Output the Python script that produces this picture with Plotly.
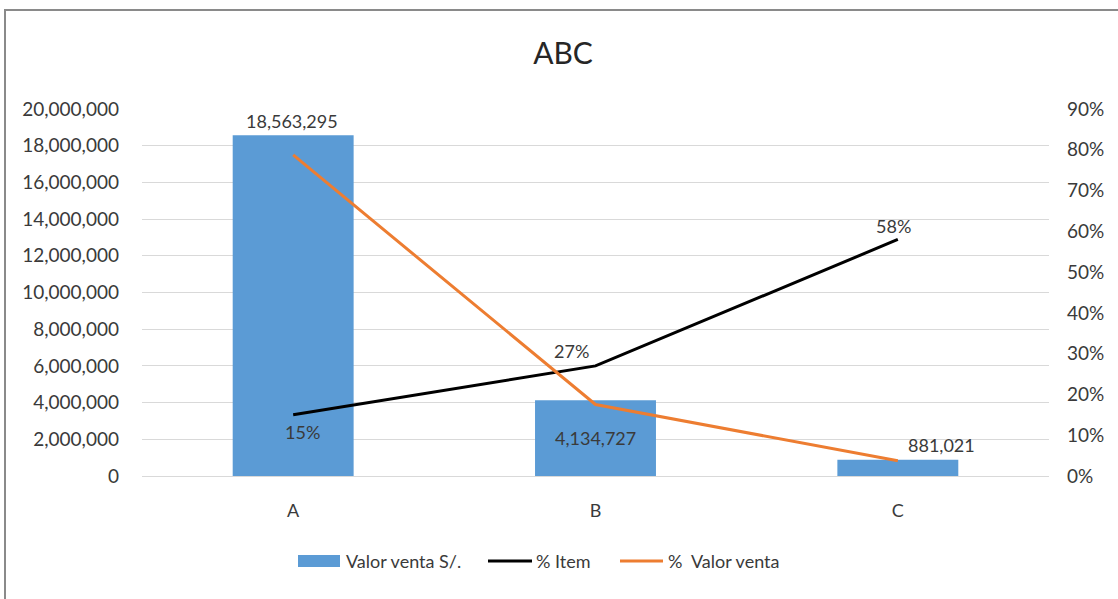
import plotly.graph_objects as go

# ABC classification data
categories = ["A", "B", "C"]
valor_venta = [18563295, 4134727, 881021]          # S/.
pct_item = [0.15, 0.27, 0.58]
total_venta = sum(valor_venta)
pct_valor_venta = [v / total_venta for v in valor_venta]

left_ticks = list(range(0, 20000001, 2000000))
right_ticks = [i / 10 for i in range(0, 10)]

FONT = "Lato"
TXT = "#3a3a3a"
BLUE = "#5b9bd5"
ORANGE = "#ed7d31"

W, H = 1118, 599
L, R, T, B = 142, 69, 109, 123
PW, PH = W - L - R, H - T - B


def px_x(x):
    return (x - L) / PW


def px_y(y):
    return (H - B - y) / PH


fig = go.Figure()
fig.add_trace(go.Bar(
    x=categories, y=valor_venta, name="Valor venta S/.",
    marker=dict(color=BLUE, line=dict(width=0)), width=0.4,
    showlegend=False,
))
fig.add_trace(go.Scatter(
    x=categories, y=pct_item, name="% Item", yaxis="y2",
    mode="lines", line=dict(color="black", width=3), showlegend=False,
))
fig.add_trace(go.Scatter(
    x=categories, y=pct_valor_venta, name="%  Valor venta", yaxis="y2",
    mode="lines", line=dict(color=ORANGE, width=3), showlegend=False,
))

annotations = []
lab_font = dict(family=FONT, size=18, color=TXT)

# value labels on the bars
bar_offsets = [(-1, 14, "top"), (0, 0, "mid"), (44, 15, "top")]
for cat, v, (dx, dy, kind) in zip(categories, valor_venta, bar_offsets):
    y = v if kind == "top" else v / 2
    annotations.append(dict(
        x=cat, y=y, xref="x", yref="y", text=f"{v:,}", showarrow=False,
        xshift=dx, yshift=dy, font=lab_font, xanchor="center", yanchor="middle",
    ))

# labels on the % Item line
item_offsets = [(9, -17), (-24, 15), (-4, 13)]
for cat, p, (dx, dy) in zip(categories, pct_item, item_offsets):
    annotations.append(dict(
        x=cat, y=p, xref="x", yref="y2", text=f"{p:.0%}", showarrow=False,
        xshift=dx, yshift=dy, font=lab_font, xanchor="center", yanchor="middle",
    ))

# chart frame and legend drawn below the plot
shapes = [
    dict(type="rect", xref="paper", yref="paper",
         x0=px_x(5), x1=px_x(1130), y0=px_y(610), y1=px_y(10),
         line=dict(color="#8a8a8a", width=2), fillcolor="rgba(0,0,0,0)", layer="below"),
    dict(type="rect", xref="paper", yref="paper",
         x0=px_x(298), x1=px_x(340), y0=px_y(567), y1=px_y(555),
         line=dict(width=0), fillcolor=BLUE),
    dict(type="line", xref="paper", yref="paper",
         x0=px_x(488), x1=px_x(532), y0=px_y(561), y1=px_y(561),
         line=dict(color="black", width=3)),
    dict(type="line", xref="paper", yref="paper",
         x0=px_x(620), x1=px_x(663), y0=px_y(561), y1=px_y(561),
         line=dict(color=ORANGE, width=3)),
]
leg_font = dict(family=FONT, size=18, color=TXT)
for x0, txt in [(344, "Valor venta S/."), (534, "% Item"), (666, "%  Valor venta")]:
    annotations.append(dict(
        x=px_x(x0), y=px_y(561), xref="paper", yref="paper", text=txt,
        showarrow=False, xanchor="left", yanchor="middle", font=leg_font,
    ))

fig.update_layout(
    width=W, height=H,
    margin=dict(l=L, r=R, t=T, b=B),
    paper_bgcolor="white", plot_bgcolor="white",
    title=dict(text="ABC", x=563 / W, xanchor="center", y=1 - 53 / H, yanchor="middle",
               font=dict(family=FONT, size=30, color="#262626")),
    font=dict(family=FONT, size=19, color=TXT),
    bargap=0.6,
    xaxis=dict(
        type="category", range=[-0.5, 2.5], showgrid=False, showline=False,
        ticks="", tickfont=dict(size=18, color=TXT), ticklabelstandoff=22,
        zeroline=False,
    ),
    yaxis=dict(
        range=[0, 20000000], tickvals=left_ticks, tickformat=",d",
        showgrid=True, gridcolor="#d9d9d9", gridwidth=1,
        zeroline=True, zerolinecolor="#d9d9d9", zerolinewidth=1,
        showline=False, ticks="", ticklabelstandoff=22,
    ),
    yaxis2=dict(
        range=[0, 0.9], tickvals=right_ticks, tickformat=".0%",
        overlaying="y", side="right", showgrid=False, zeroline=False,
        showline=False, ticks="", ticklabelstandoff=17,
    ),
    shapes=shapes,
    annotations=annotations,
)

fig.write_html("out.html")
